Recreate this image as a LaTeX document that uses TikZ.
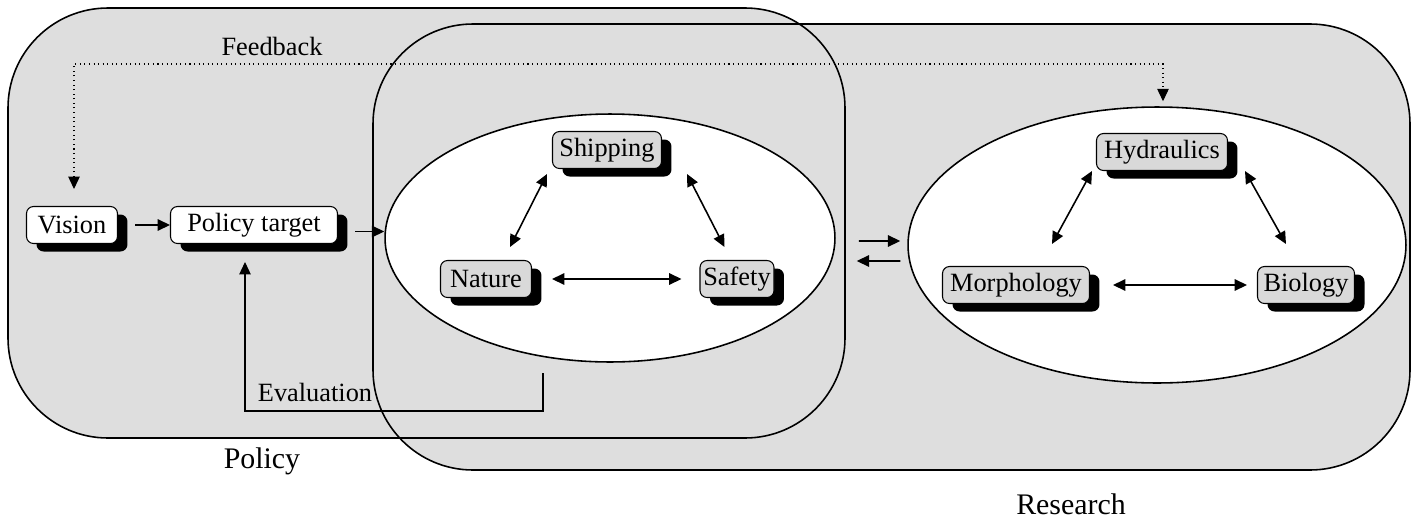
\documentclass[tikz,border=0pt]{standalone}
\usepackage{fontspec}
\setmainfont{Liberation Serif}
\usetikzlibrary{arrows.meta}
\usetikzlibrary{shapes.geometric}
\usetikzlibrary{shadows}
\definecolor{areagray}{gray}{0.87}
\definecolor{itemgray}{gray}{0.85}
\tikzset{
  bigbox/.style={fill=areagray, rounded corners=2cm},
  bigline/.style={line width=0.9pt, rounded corners=2cm},
  zone/.style={ellipse, draw, line width=0.9pt, fill=white, inner sep=0pt},
  item/.style={draw, rounded corners=4pt, line width=0.6pt, minimum height=0.74cm, inner sep=0pt,
    drop shadow={shadow xshift=0.2cm, shadow yshift=-0.16cm, fill=black, opacity=1}},
  plainitem/.style={item, fill=white},
  grayitem/.style={item, fill=itemgray},
  link/.style={line width=0.9pt, >={Triangle[length=7pt,width=6.5pt]}},
  biglabel/.style={font=\fontsize{17}{20}\selectfont},
}

\begin{document}
\begin{tikzpicture}[x=0.02cm, y=-0.02cm, every node/.style={font=\fontsize{15}{18}\selectfont}]
\useasboundingbox (0,0) rectangle (1417,518);

%Policy and Research areas
\fill[bigbox] (8,8) rectangle (845,438);
\fill[bigbox] (373,24) rectangle (1410,470);
\draw[bigline] (8,8) rectangle (845,438);
\draw[bigline] (373,24) rectangle (1410,470);
\node[biglabel] (policylbl) at (262,461) {Policy};
\node[biglabel] (researchlbl) at (1071,504) {Research};

%Policy side
\node[zone, minimum width=9cm, minimum height=4.96cm] (policyzone) at (610,238) {};
\node[plainitem, minimum width=1.82cm] (vision) at (72,225) {Vision};
\node[plainitem, minimum width=3.34cm] (target) at (254,225) {Policy target};
\node[grayitem, minimum width=2.18cm] (shipping) at (607,150) {Shipping};
\node[grayitem, minimum width=1.82cm] (nature) at (486,279) {Nature};
\node[grayitem, minimum width=1.48cm] (safety) at (737,279) {Safety};

\draw[link,->, shorten <=0.34cm] (vision.east) -- (target.west);
\draw[link,->, shorten <=0.34cm] ([yshift=-0.13cm]target.east) -- ([yshift=-0.13cm]target.east -| policyzone.west);
\draw[link,<->] ([shift={(-0.1cm,-0.1cm)}]shipping.south west) -- ([shift={(-0.44cm,0.26cm)}]nature.north east);
\draw[link,<->] ([shift={(0.5cm,-0.1cm)}]shipping.south east) -- ([shift={(0.5cm,0.26cm)}]safety.north west);
\draw[link,<->, shorten <=0.4cm, shorten >=0.36cm] (nature.east) -- (safety.west);

%Evaluation loop
\coordinate (evalstart) at (543,373);
\coordinate (evalbottom) at (543,411);
\draw[link, line width=0.6pt, ->] (evalstart) -- (evalbottom) -| ([xshift=-0.18cm,yshift=-0.36cm]target.south);
\node (evallbl) at (315,392) {Evaluation};

%Research side
\node[zone, minimum width=9.96cm, minimum height=5.52cm] (researchzone) at (1157,245) {};
\node[grayitem, minimum width=2.62cm] (hydraulics) at (1162,152) {Hydraulics};
\node[grayitem, minimum width=2.94cm] (morphology) at (1016,285) {Morphology};
\node[grayitem, minimum width=1.94cm] (biology) at (1306,285) {Biology};

\draw[link,<->] ([xshift=-0.08cm]hydraulics.south west) -- ([shift={(0.72cm,0.44cm)}]morphology.north);
\draw[link,<->] ([xshift=0.34cm]hydraulics.south east) -- ([shift={(0.58cm,0.44cm)}]biology.north west);
\draw[link,<->, shorten <=0.46cm, shorten >=0.2cm] (morphology.east) -- (biology.west);

%exchange between policy and research
\draw[link,->] ([shift={(0.46cm,-0.06cm)}]policyzone.east) -- ([shift={(-0.14cm,0.08cm)}]researchzone.west);
\draw[link,->] ([shift={(-0.14cm,-0.32cm)}]researchzone.west) -- ([shift={(0.42cm,-0.46cm)}]policyzone.east);

%Feedback
\coordinate (fbtop) at (620,64);
\draw[link, line width=0.6pt, dotted, <->] ([shift={(0.04cm,0.34cm)}]vision.north) |- (fbtop) -| ([shift={(0.12cm,0.1cm)}]researchzone.north);
\node (fblbl) at (272,46) {Feedback};

\end{tikzpicture}
\end{document}
